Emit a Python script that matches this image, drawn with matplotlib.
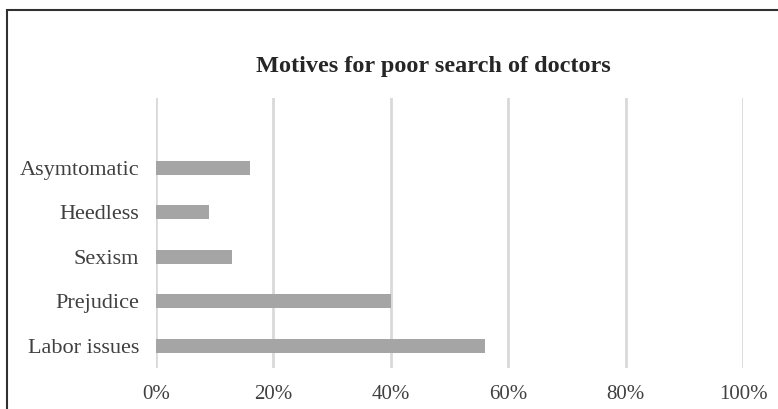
import matplotlib
matplotlib.use("Agg")
import matplotlib.pyplot as plt
from matplotlib.patches import Rectangle
from matplotlib.ticker import FuncFormatter

categories = ["Labor issues", "Prejudice", "Sexism", "Heedless", "Asymtomatic"]
values = [56, 40, 13, 9, 16]
xticks = [0, 20, 40, 60, 80, 100]
title = "Motives for poor search of doctors"

plt.rcParams['font.family'] = ['Liberation Serif', 'DejaVu Serif']

W, H = 778, 409
fig = plt.figure(figsize=(W / 100, H / 100), dpi=100)
fig.patch.set_facecolor("white")

# outer frame (extends beyond right/bottom edges)
fig.patches.append(Rectangle((7 / W, -0.05), 1.1, 1 - 10 / H + 0.05,
                             transform=fig.transFigure, fill=False,
                             edgecolor="#303030", linewidth=1.5, zorder=0))

ax = fig.add_axes([156 / W, 1 - 368 / H, (743 - 156) / W, (368 - 98) / H])
ypos = list(range(len(categories)))
ax.barh(ypos, values, height=0.31, color="#a5a5a5", zorder=3)
ax.set_xlim(0, 100)
ax.set_ylim(-0.5, 5.57)
ax.set_xticks(xticks)
ax.xaxis.set_major_formatter(FuncFormatter(lambda v, p: f"{int(v)}%"))
ax.set_yticks(ypos)
ax.set_yticklabels(categories)
ax.grid(axis="x", color="#d9d9d9", linewidth=2, zorder=0)
for s in ax.spines.values():
    s.set_visible(False)
ax.tick_params(axis="both", length=0, labelcolor="#404040")
ax.tick_params(axis="x", pad=12, labelsize=15)
ax.tick_params(axis="y", pad=12, labelsize=16)
for t in ax.get_yticklabels():
    t.set_verticalalignment("center_baseline")

fig.text(433 / W, 1 - 72 / H, title, ha="center", va="baseline",
         fontsize=17.5, fontweight="bold", color="#262626")

fig.savefig("out.png", dpi=100)
